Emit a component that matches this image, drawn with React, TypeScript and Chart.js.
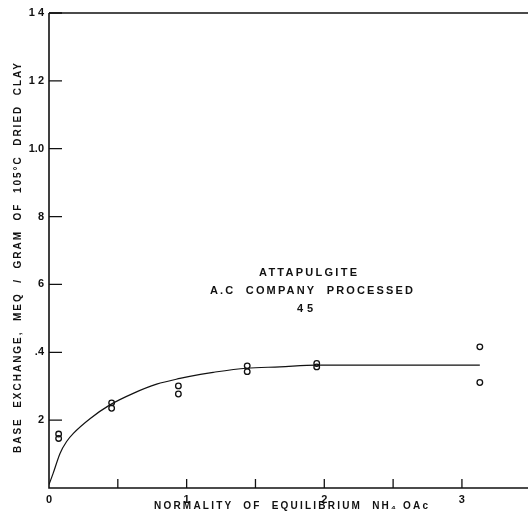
import React, { useEffect, useRef } from "react";
import { Chart, registerables } from "chart.js";

Chart.register(...registerables);

// Measured points (normality, base exchange meq/g)
const normality = [0.07, 0.07, 0.455, 0.455, 0.94, 0.94, 1.44, 1.44, 1.945, 1.945, 3.13, 3.13];
const baseExchange = [0.159, 0.146, 0.251, 0.235, 0.301, 0.277, 0.36, 0.343, 0.367, 0.357, 0.416, 0.311];

// Fitted curve
const curveX = [0, 0.03, 0.08, 0.128, 0.177, 0.3, 0.443, 0.612, 0.782, 0.951, 1.1, 1.193, 1.435, 1.678, 1.944, 2.2, 3.13];
const curveY = [0.01, 0.043, 0.102, 0.137, 0.161, 0.205, 0.245, 0.279, 0.306, 0.323, 0.335, 0.341, 0.353, 0.357, 0.362, 0.362, 0.362];

const xTickValues = [0, 0.5, 1, 1.5, 2, 2.5, 3];
const xTickLabels = ["0", "", "1", "", "2", "", "3"];
const yTickValues = [0.2, 0.4, 0.6, 0.8, 1.0, 1.2, 1.4];
const yTickLabels = ["2", ".4", "6", "8", "1.0", "1 2", "1 4"];

const annotationLines = ["ATTAPULGITE", "A.C  COMPANY  PROCESSED", "45"];
const xTitle = "NORMALITY  OF  EQUILIBRIUM  NH\u2084 OAc";
const yTitle = "BASE  EXCHANGE,  MEQ  /  GRAM  OF  105\u00B0C  DRIED  CLAY";

const INK = "#111";
const FAMILY = "'Liberation Sans', Arial, sans-serif";

function drawSpaced(ctx: CanvasRenderingContext2D, text: string, cx: number, cy: number, target: number, font: string) {
  ctx.font = font;
  (ctx as any).letterSpacing = "0px";
  const w = ctx.measureText(text).width;
  const n = Array.from(text).length;
  const sp = Math.max(0, (target - w) / Math.max(1, n - 1));
  (ctx as any).letterSpacing = sp + "px";
  ctx.textAlign = "left";
  ctx.textBaseline = "middle";
  ctx.fillText(text, cx - target / 2, cy);
  (ctx as any).letterSpacing = "0px";
}

const decorPlugin = {
  id: "decor",
  afterDraw(chart: any) {
    const ctx: CanvasRenderingContext2D = chart.ctx;
    const { left, right, top, bottom } = chart.chartArea;
    const xs = chart.scales.x;
    const ys = chart.scales.y;
    ctx.save();
    ctx.strokeStyle = INK;
    ctx.lineWidth = 1.6;
    ctx.beginPath();
    ctx.moveTo(left, top);
    ctx.lineTo(right, top);
    ctx.moveTo(left, top);
    ctx.lineTo(left, bottom);
    ctx.lineTo(right, bottom);
    ctx.stroke();

    ctx.lineWidth = 1.3;
    ctx.beginPath();
    yTickValues.forEach((v) => {
      const py = ys.getPixelForValue(v);
      ctx.moveTo(left, py);
      ctx.lineTo(left + 13, py);
    });
    xTickValues.forEach((v) => {
      if (v === 0) return;
      const px = xs.getPixelForValue(v);
      ctx.moveTo(px, bottom);
      ctx.lineTo(px, bottom - 9);
    });
    ctx.stroke();

    ctx.fillStyle = INK;
    drawSpaced(ctx, annotationLines[0], 308, 273, 98, `bold 11px ${FAMILY}`);
    drawSpaced(ctx, annotationLines[1], 311.5, 290.5, 203, `bold 11px ${FAMILY}`);
    drawSpaced(ctx, annotationLines[2], 305, 309, 16, `bold 11px ${FAMILY}`);

    drawSpaced(ctx, xTitle, 291, 506, 274, `bold 10px ${FAMILY}`);

    ctx.save();
    ctx.translate(18.5, 258);
    ctx.rotate(-Math.PI / 2);
    drawSpaced(ctx, yTitle, 0, 0, 390, `bold 10px ${FAMILY}`);
    ctx.restore();

    ctx.restore();
  },
};

function labelFor(values: number[], labels: string[], v: number) {
  for (let i = 0; i < values.length; i++) {
    if (Math.abs(values[i] - v) < 1e-6) return labels[i];
  }
  return "";
}

export default function App() {
  const ref = useRef<HTMLCanvasElement | null>(null);

  useEffect(() => {
    if (!ref.current) return;
    const chart = new Chart(ref.current, {
      type: "scatter",
      data: {
        datasets: [
          {
            type: "line",
            label: "Curve",
            data: curveX.map((x, i) => ({ x, y: curveY[i] })),
            borderColor: INK,
            borderWidth: 1.2,
            pointRadius: 0,
            fill: false,
            cubicInterpolationMode: "monotone",
          } as any,
          {
            type: "scatter",
            label: "Attapulgite",
            data: normality.map((x, i) => ({ x, y: baseExchange[i] })),
            borderColor: INK,
            backgroundColor: "rgba(255,255,255,0)",
            borderWidth: 1.3,
            pointRadius: 2.8,
            pointStyle: "circle",
          },
        ],
      },
      options: {
        responsive: false,
        animation: false,
        layout: { autoPadding: false, padding: { top: 13, right: 0, left: 0, bottom: 0 } },
        plugins: {
          legend: { display: false },
          tooltip: { enabled: false },
        },
        scales: {
          x: {
            type: "linear",
            min: 0,
            max: 3.48,
            grid: { display: false, drawTicks: true, tickLength: 5 },
            border: { display: false },
            afterFit: (s: any) => {
              s.height = 33;
            },
            ticks: {
              stepSize: 0.5,
              color: INK,
              padding: 0,
              maxRotation: 0,
              autoSkip: false,
              font: { family: FAMILY, size: 11, weight: "bold" },
              callback: (v: any) => labelFor(xTickValues, xTickLabels, Number(v)),
            },
          },
          y: {
            type: "linear",
            min: 0,
            max: 1.4,
            grid: { display: false, drawTicks: false },
            border: { display: false },
            afterFit: (s: any) => {
              s.width = 49;
            },
            ticks: {
              stepSize: 0.2,
              color: INK,
              padding: 5,
              autoSkip: false,
              font: { family: FAMILY, size: 11, weight: "bold" },
              callback: (v: any) => labelFor(yTickValues, yTickLabels, Number(v)),
            },
          },
        },
      },
      plugins: [decorPlugin],
    } as any);
    return () => chart.destroy();
  }, []);

  return (
    <div style={{ position: "absolute", left: 0, top: 0, width: 528, height: 521, background: "#fff" }}>
      <canvas ref={ref} width={528} height={521} />
    </div>
  );
}
